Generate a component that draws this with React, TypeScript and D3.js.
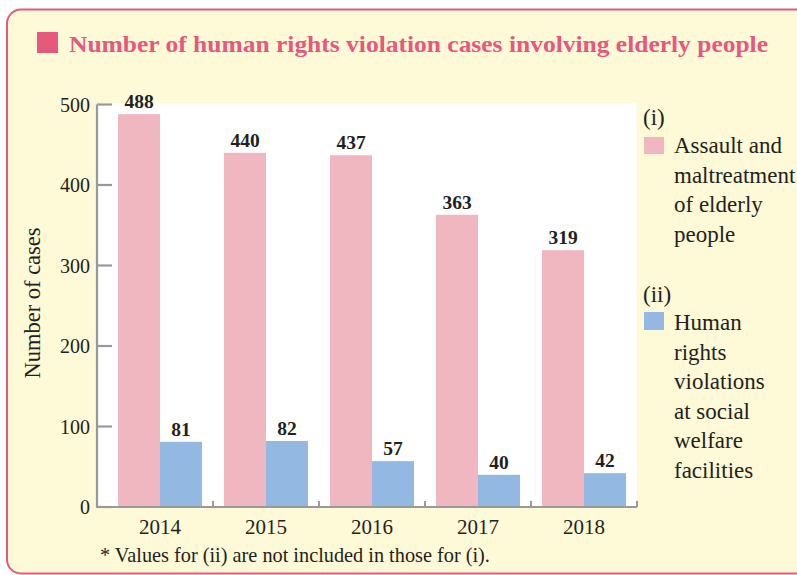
import React from "react";
import * as d3 from "d3";

const years = ["2014", "2015", "2016", "2017", "2018"];
const assault = [488, 440, 437, 363, 319];
const facilities = [81, 82, 57, 40, 42];
const yTicks = [0, 100, 200, 300, 400, 500];
const legend1Lines = ["Assault and", "maltreatment", "of elderly", "people"];
const legend2Lines = ["Human", "rights", "violations", "at social", "welfare", "facilities"];

const PINK = "#f1b7c0";
const BLUE = "#93b9e3";
const TITLE = "#e6587e";
const BG = "#fef9d6";
const AXIS = "#999999";
const FONT = "'Liberation Serif', 'Times New Roman', serif";

export default function App() {
  const W = 797, H = 575;
  const y = d3.scaleLinear().domain([0, 500]).range([507, 104.5]);
  const x = d3.scaleBand().domain(years).range([107, 637]).paddingInner(0).paddingOuter(0);
  const inner = d3.scaleBand().domain(["a", "b"]).range([0, x.bandwidth()]).paddingInner(0).paddingOuter(0.262);
  const bw = inner.bandwidth();
  const plotLeft = 97, plotRight = 637, plotTop = 103, base = y(0);

  return (
    <svg width={W} height={H} style={{ position: "absolute", left: 0, top: 0, fontFamily: FONT }}>
      <rect x={7} y={9.5} width={W + 20} height={H - 11} rx={14} fill={BG} stroke={TITLE} strokeWidth={2} />
      <rect x={37} y={32} width={21} height={21} fill={TITLE} />
      <text x={69} y={52} fontSize={23} fontWeight="bold" fill={TITLE} textLength={699} lengthAdjust="spacingAndGlyphs">
        Number of human rights violation cases involving elderly people
      </text>
      <rect x={plotLeft} y={plotTop} width={plotRight - plotLeft} height={base - plotTop} fill="#ffffff" />
      {years.map((yr, i) => {
        const gx = x(yr)!;
        const ax = gx + inner("a")!;
        const bx = gx + inner("b")!;
        return (
          <g key={yr}>
            <rect x={ax} y={y(assault[i])} width={bw} height={base - y(assault[i])} fill={PINK} />
            <rect x={bx} y={y(facilities[i])} width={bw} height={base - y(facilities[i])} fill={BLUE} />
            <text x={ax + bw / 2} y={y(assault[i]) - 6} textAnchor="middle" fontSize={19.5} fontWeight="bold" fill="#231f20">{assault[i]}</text>
            <text x={bx + bw / 2} y={y(facilities[i]) - 6} textAnchor="middle" fontSize={19.5} fontWeight="bold" fill="#231f20">{facilities[i]}</text>
            <text x={gx + x.bandwidth() / 2} y={534} textAnchor="middle" fontSize={21} fill="#231f20">{yr}</text>
          </g>
        );
      })}
      {/* axes */}
      <line x1={plotLeft} y1={y(500)} x2={plotLeft} y2={base + 1} stroke={AXIS} strokeWidth={2.2} />
      <line x1={plotLeft - 1} y1={base} x2={plotRight} y2={base} stroke={AXIS} strokeWidth={2.2} />
      {yTicks.map((t) => (
        <g key={t}>
          <line x1={plotLeft} x2={plotLeft + 15} y1={y(t)} y2={y(t)} stroke={AXIS} strokeWidth={2.2} />
          <text x={90} y={y(t) + 7} textAnchor="end" fontSize={20} fill="#231f20">{t}</text>
        </g>
      ))}
      {years.map((yr) => (
        <line key={yr} x1={x(yr)! + x.bandwidth()} x2={x(yr)! + x.bandwidth()} y1={base} y2={base - 6} stroke={AXIS} strokeWidth={2} />
      ))}
      <text transform={`translate(40,${303}) rotate(-90)`} textAnchor="middle" fontSize={22.5} fill="#231f20">Number of cases</text>
      <text x={100} y={562} fontSize={20.3} fill="#231f20">* Values for (ii) are not included in those for (i).</text>
      {/* legend */}
      <text x={643} y={125} fontSize={23} fill="#231f20">(i)</text>
      <rect x={644} y={137} width={20} height={17} fill={PINK} />
      {legend1Lines.map((l, i) => (
        <text key={l} x={674} y={153 + i * 29.7} fontSize={23} fill="#231f20">{l}</text>
      ))}
      <text x={643} y={302} fontSize={23} fill="#231f20">(ii)</text>
      <rect x={644} y={312} width={20} height={18} fill={BLUE} />
      {legend2Lines.map((l, i) => (
        <text key={l} x={674} y={330 + i * 29.6} fontSize={23} fill="#231f20">{l}</text>
      ))}
    </svg>
  );
}
